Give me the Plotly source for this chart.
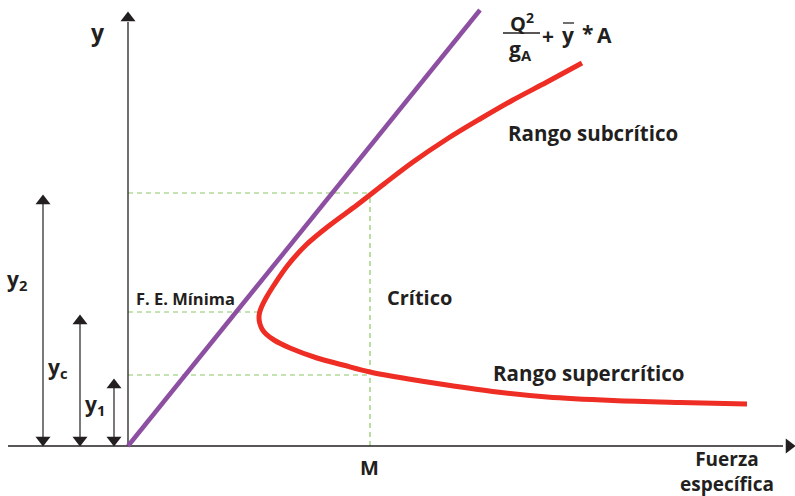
import plotly.graph_objects as go

# ---- data (chart units: x = specific force, y = depth) ----
curve_x = [454, 419, 385, 352, 319, 285, 256, 229, 202, 178, 160, 146, 138, 133.5, 131.5, 131,
           131.7, 134, 138, 146, 162, 189, 215, 242, 269, 319, 369, 419, 485, 552, 619]
curve_y = [383, 364, 346, 327, 307, 284, 262, 241, 221, 201, 181, 161, 148, 139, 133, 128,
           123, 117, 112, 106, 98, 88, 81, 74, 69, 61, 54, 49, 45.5, 43.5, 42]
line_x = [0, 352]
line_y = [0, 436]

M_x = 242          # specific force at y1 / y2
y2_val = 253
yc_val = 134
y1_val = 71
yc_nose_x = 134

arrow_x = {"y2": -85, "yc": -48, "y1": -14}
arrow_top = {"y2": 251, "yc": 131, "y1": 67}

INK = "#231f20"
RED = "#ee2d24"
PURPLE = "#8c4fa2"
GREEN = "#8cc866"
FONT = "Open Sans"

fig = go.Figure()

# dashed guides
dash = dict(color=GREEN, width=1.2, dash="5px,4px")
for xs, ys in [([0, M_x], [y2_val, y2_val]),
               ([0, yc_nose_x], [yc_val, yc_val]),
               ([0, M_x], [y1_val, y1_val]),
               ([M_x, M_x], [0, y2_val])]:
    fig.add_trace(go.Scatter(x=xs, y=ys, mode="lines", line=dash, hoverinfo="skip", showlegend=False))

# axes
fig.add_trace(go.Scatter(x=[-120, 655], y=[0, 0], mode="lines",
                         line=dict(color=INK, width=1.3), showlegend=False))
fig.add_trace(go.Scatter(x=[0, 0], y=[0, 424], mode="lines",
                         line=dict(color=INK, width=1.3), showlegend=False))
fig.add_trace(go.Scatter(x=[661], y=[0], mode="markers",
                         marker=dict(symbol="triangle-right", size=13, color=INK), showlegend=False))
fig.add_trace(go.Scatter(x=[0], y=[428], mode="markers",
                         marker=dict(symbol="triangle-up", size=13, color=INK), showlegend=False))

# left double arrows
for k in ["y2", "yc", "y1"]:
    ax = arrow_x[k]
    top = arrow_top[k]
    fig.add_trace(go.Scatter(x=[ax, ax], y=[5, top - 5], mode="lines",
                             line=dict(color=INK, width=1.2), showlegend=False))
    fig.add_trace(go.Scatter(x=[ax], y=[top - 6], mode="markers",
                             marker=dict(symbol="triangle-up", size=13, color=INK), showlegend=False))
    fig.add_trace(go.Scatter(x=[ax], y=[6], mode="markers",
                             marker=dict(symbol="triangle-down", size=13, color=INK), showlegend=False))

# curves
fig.add_trace(go.Scatter(x=line_x, y=line_y, mode="lines",
                         line=dict(color=PURPLE, width=4.5), showlegend=False))
fig.add_trace(go.Scatter(x=curve_x, y=curve_y, mode="lines",
                         line=dict(color=RED, width=5, shape="spline", smoothing=1.0), showlegend=False))

def txt(x, y, s, size=18, xanchor="center", yanchor="middle"):
    fig.add_annotation(x=x, y=y, xref="x", yref="y", text=s, showarrow=False,
                       xanchor=xanchor, yanchor=yanchor,
                       font=dict(family=FONT, size=size, color=INK, weight="bold"))

txt(-30, 414, "y", 23)
txt(-111, 166, "y<sub>2</sub>", 21)
txt(-70, 78, "y<sub>c</sub>", 21)
txt(-33, 41, "y<sub>1</sub>", 21)
txt(57, 148, "F. E. Mínima", 16.5)
txt(291, 149, "Crítico", 20)
txt(465, 313, "Rango subcrítico", 20.5)
txt(461, 73, "Rango supercrítico", 20.5)
txt(241, -21, "M", 20)
txt(599, -25, "Fuerza<br>específica", 19)

# formula Q^2/(gA) + ybar * A
txt(394, 424, "Q<sup>2</sup>", 20)
fig.add_shape(type="line", x0=375, x1=412, y0=413, y1=413, xref="x", yref="y",
              line=dict(color=INK, width=1.3))
txt(392, 396, "g<sub>A</sub>", 21)
txt(420, 410, "+", 21)
txt(440, 411, "y", 21)
fig.add_shape(type="line", x0=435, x1=446, y0=423, y1=423, xref="x", yref="y",
              line=dict(color=INK, width=1.3))
txt(459, 413, "*", 21)
txt(476, 411, "A", 21)

fig.update_layout(
    width=795, height=496,
    margin=dict(l=0, r=0, t=0, b=0),
    paper_bgcolor="white", plot_bgcolor="white",
    xaxis=dict(range=[-128, 667], visible=False, fixedrange=True),
    yaxis=dict(range=[-50, 446], visible=False, fixedrange=True),
    showlegend=False,
)
fig.write_html("out.html", config={"displayModeBar": False},
               post_script="document.body.style.margin='0';document.body.style.overflow='hidden';")
